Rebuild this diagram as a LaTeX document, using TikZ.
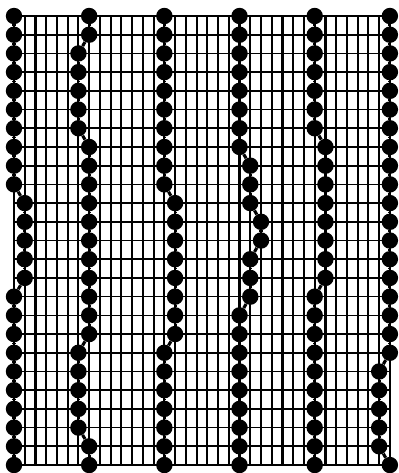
\documentclass[tikz,border=0pt]{standalone}
\usetikzlibrary{positioning}
\tikzset{
  bead/.style={circle, fill=black, inner sep=0pt, minimum size=0.41cm},
  warp/.style={line width=1.5pt},
  weft/.style={line width=1.2pt},
  thread/.style={line width=2.2pt}
}
\begin{document}
\begin{tikzpicture}[x=0.2685cm, y=-0.46775cm]
  \useasboundingbox (-0.35cm,0.4cm) rectangle (9.6cm,-11.425cm);
  \foreach \i in {0,...,35} \draw[warp] (\i,0) -- (\i,24);
  \foreach \r in {0,...,24} \draw[weft] (0,\r) -- (35,\r);
  \foreach \n/\l in {
    a/{0,0,0,0,0,0,0,0,0,0,1,1,1,1,1,0,0,0,0,0,0,0,0,0,0},
    b/{7,7,6,6,6,6,6,7,7,7,7,7,7,7,7,7,7,7,6,6,6,6,6,7,7},
    c/{14,14,14,14,14,14,14,14,14,14,15,15,15,15,15,15,15,15,14,14,14,14,14,14,14},
    d/{21,21,21,21,21,21,21,21,22,22,22,23,23,22,22,22,21,21,21,21,21,21,21,21,21},
    e/{28,28,28,28,28,28,28,29,29,29,29,29,29,29,29,28,28,28,28,28,28,28,28,28,28},
    f/{35,35,35,35,35,35,35,35,35,35,35,35,35,35,35,35,35,35,35,34,34,34,34,34,35}}{
    \foreach \c [count=\r from 0] in \l
      \node[bead] (\n\r) at (\c,\r) {};
    \foreach \r [evaluate=\r as \s using int(\r+1)] in {0,...,23}
      \draw[thread] (\n\r) -- (\n\s);
  }
\end{tikzpicture}
\end{document}
